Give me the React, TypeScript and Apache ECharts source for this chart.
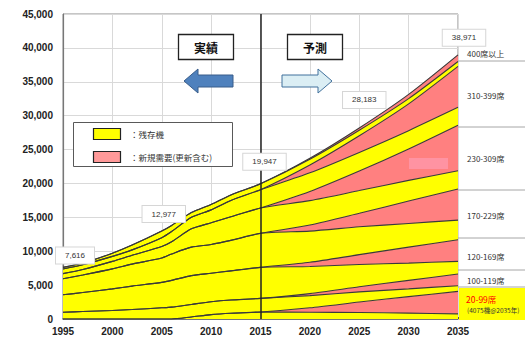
import React, { useEffect, useRef } from "react";
import * as echarts from "echarts";

// ---- data ----
const years = [1995, 1997, 2000, 2002, 2005, 2006, 2008, 2010, 2012, 2015, 2020, 2025, 2030, 2035];
const categories = ["20-99席", "100-119席", "120-169席", "170-229席", "230-309席", "310-399席", "400席以上"];

// 残存機 (existing fleet) per seat class
const existing20_99 = [0, 0, 0, 0, 0, 0, 300, 650, 850, 1030, 1000, 950, 870, 750];
const existing100_119 = [1000, 1100, 1250, 1400, 1650, 1750, 1850, 1900, 1950, 2010, 1800, 1500, 1150, 830];
const existing120_169 = [2580, 2800, 3200, 3450, 3750, 3950, 4250, 4200, 4300, 4580, 4000, 3300, 2550, 1870];
const existing170_229 = [2370, 2600, 2950, 3250, 3600, 3900, 4200, 4250, 4500, 5020, 4600, 4100, 3500, 2900];
const existing230_309 = [740, 800, 1100, 1300, 1700, 1800, 2700, 3200, 3500, 3740, 3600, 3350, 3050, 2700];
const existing310_399 = [690, 700, 740, 800, 1300, 1500, 1700, 1900, 2400, 2700, 2750, 2750, 2700, 2630];
const existing400 = [236, 250, 460, 700, 977, 900, 700, 800, 800, 867, 850, 820, 780, 730];

// 新規需要 (new demand incl. replacement) per seat class
const new20_99 = [0, 0, 0, 0, 0, 0, 0, 0, 0, 0, 650, 1550, 2430, 3325];
const new100_119 = [0, 0, 0, 0, 0, 0, 0, 0, 0, 0, 300, 750, 1250, 1730];
const new120_169 = [0, 0, 0, 0, 0, 0, 0, 0, 0, 0, 620, 1450, 2350, 3190];
const new170_229 = [0, 0, 0, 0, 0, 0, 0, 0, 0, 0, 900, 2000, 3300, 4580];
const new230_309 = [0, 0, 0, 0, 0, 0, 0, 0, 0, 0, 1350, 2883, 4641, 6720];
const new310_399 = [0, 0, 0, 0, 0, 0, 0, 0, 0, 0, 1150, 2450, 3950, 6045];
const new400 = [0, 0, 0, 0, 0, 0, 0, 0, 0, 0, 140, 330, 620, 971];

const totalYears = [1995, 2005, 2015, 2025, 2035];
const totals = [7616, 12977, 19947, 28183, 38971];

const existingAll = [existing20_99, existing100_119, existing120_169, existing170_229, existing230_309, existing310_399, existing400];
const newAll = [new20_99, new100_119, new120_169, new170_229, new230_309, new310_399, new400];

const labelOffsets: number[][] = [[12, -12], [2, -17], [4, -22], [5, -28], [6, -17]];

const YELLOW = "#FFFF00";
const PINK = "#FF8080";
const LINE = "#3a3a3a";
const NUM_FONT = "Liberation Sans, Arial, sans-serif";
const JP_FONT = "Noto Sans CJK JP, sans-serif";

const t = (y: number) => Date.UTC(y, 0, 1);

export default function App() {
  const ref = useRef<HTMLDivElement>(null);
  useEffect(() => {
    if (!ref.current) return;
    const chart = echarts.init(ref.current, null, { renderer: "svg" });

    const areaSeries: any[] = [];
    const lineSeries: any[] = [];
    categories.forEach((cat, i) => {
      const pairs: [string, number[], string][] = [
        [cat + " 残存機", existingAll[i], YELLOW],
        [cat + " 新規需要", newAll[i], PINK],
      ];
      pairs.forEach(([name, arr, color]) => {
        const data = years.map((y, j) => [t(y), arr[j]]);
        areaSeries.push({
          name,
          type: "line",
          stack: "area",
          xAxisIndex: 0,
          data,
          smooth: 0.25,
          showSymbol: false,
          symbol: "none",
          lineStyle: { width: 0 },
          areaStyle: { color, opacity: 1 },
          z: 2,
          silent: true,
        });
        lineSeries.push({
          name: name + " line",
          type: "line",
          stack: "lines",
          xAxisIndex: 0,
          data,
          smooth: 0.25,
          showSymbol: false,
          symbol: "none",
          lineStyle: { width: 1.1, color: LINE },
          z: 3,
          silent: true,
        });
      });
    });

    lineSeries[0].markLine = {
      silent: true,
      symbol: "none",
      label: { show: false },
      lineStyle: { color: "#222", width: 1.5, type: "solid" },
      data: [{ xAxis: t(2015) }],
    };

    const totalSeries = {
      name: "合計",
      type: "line",
      xAxisIndex: 0,
      data: totalYears.map((y, i) => ({
        value: [t(y), totals[i]],
        label: { offset: labelOffsets[i] },
      })),
      symbol: "circle",
      symbolSize: 2,
      showSymbol: true,
      itemStyle: { color: "rgba(0,0,0,0)", borderWidth: 0 },
      lineStyle: { width: 0, color: "rgba(0,0,0,0)" },
      z: 10,
      label: {
        show: true,
        position: "inside",
        formatter: (p: any) => p.value[1].toLocaleString("en-US"),
        fontSize: 8,
        fontFamily: NUM_FONT,
        color: "#333",
        backgroundColor: "#fff",
        borderColor: "#d6d6d6",
        borderWidth: 1,
        padding: [4, 9],
      },
    };

    const rightLabels = [
      { t: "400席以上", y: 53 },
      { t: "310-399席", y: 95 },
      { t: "230-309席", y: 158 },
      { t: "170-229席", y: 215 },
      { t: "120-169席", y: 256 },
      { t: "100-119席", y: 280 },
    ];
    const dividerYs = [61, 127, 190, 238, 270, 287];

    const graphic: any[] = [
      { type: "rect", shape: { x: 409, y: 158, width: 39, height: 11 }, style: { fill: "#FF93A2" }, z: 5 },
      { type: "rect", shape: { x: 459, y: 288, width: 66, height: 32 }, style: { fill: YELLOW }, z: 5 },
      ...dividerYs.map((y) => ({
        type: "line",
        shape: { x1: 458, y1: y, x2: 525, y2: y },
        style: { stroke: "#a6a6a6", lineWidth: 1 },
        z: 5,
      })),
      ...rightLabels.map((l) => ({
        type: "text",
        x: 467,
        y: l.y,
        style: { text: l.t, fontSize: 8, fontFamily: JP_FONT, fill: "#333", verticalAlign: "middle" },
        z: 6,
      })),
      {
        type: "text",
        x: 466,
        y: 299,
        style: { text: "20-99席", fontSize: 8.5, fontFamily: JP_FONT, fill: "#FF0000", verticalAlign: "middle" },
        z: 6,
      },
      {
        type: "text",
        x: 467,
        y: 310,
        style: { text: "(4075機@2035年)", fontSize: 6.5, fontFamily: JP_FONT, fill: "#333", verticalAlign: "middle" },
        z: 6,
      },
      { type: "rect", shape: { x: 73.5, y: 122.5, width: 159, height: 44 }, style: { fill: "#fff", stroke: "#595959", lineWidth: 1 }, z: 6 },
      { type: "rect", shape: { x: 93.5, y: 128.5, width: 27, height: 11 }, style: { fill: YELLOW, stroke: "#222", lineWidth: 1.2 }, z: 7 },
      { type: "rect", shape: { x: 93.5, y: 151.5, width: 27, height: 11 }, style: { fill: "#FF9999", stroke: "#222", lineWidth: 1.2 }, z: 7 },
      {
        type: "text",
        x: 130,
        y: 134,
        style: { text: "：残存機", fontSize: 8.5, fontFamily: JP_FONT, fill: "#333", verticalAlign: "middle" },
        z: 7,
      },
      {
        type: "text",
        x: 130,
        y: 157,
        style: { text: "：新規需要(更新含む)", fontSize: 8.5, fontFamily: JP_FONT, fill: "#333", verticalAlign: "middle" },
        z: 7,
      },
      { type: "rect", shape: { x: 178.5, y: 34.5, width: 55, height: 25 }, style: { fill: "#fff", stroke: "#222", lineWidth: 1.3 }, z: 6 },
      {
        type: "text",
        x: 206,
        y: 47,
        style: { text: "実績", fontSize: 12, fontWeight: "bold", fontFamily: JP_FONT, fill: "#111", align: "center", verticalAlign: "middle" },
        z: 7,
      },
      { type: "rect", shape: { x: 287.5, y: 34.5, width: 55, height: 25 }, style: { fill: "#fff", stroke: "#222", lineWidth: 1.3 }, z: 6 },
      {
        type: "text",
        x: 315,
        y: 47,
        style: { text: "予測", fontSize: 12, fontWeight: "bold", fontFamily: JP_FONT, fill: "#111", align: "center", verticalAlign: "middle" },
        z: 7,
      },
      {
        type: "polygon",
        shape: { points: [[184, 81], [198, 69], [198, 75], [233, 75], [233, 87], [198, 87], [198, 93]] },
        style: { fill: "#4F81BD", stroke: "#385D8A", lineWidth: 1 },
        z: 6,
      },
      {
        type: "polygon",
        shape: { points: [[332, 81], [318, 69], [318, 75], [282, 75], [282, 87], [318, 87], [318, 93]] },
        style: { fill: "#DBEEF4", stroke: "#41719C", lineWidth: 1 },
        z: 6,
      },
    ];

    chart.setOption({
      animation: false,
      backgroundColor: "#fff",
      grid: {
        left: 63,
        right: 67,
        top: 14,
        bottom: 29,
        show: true,
        borderColor: "#8c8c8c",
        borderWidth: 1,
        backgroundColor: "transparent",
      },
      xAxis: [
        {
          type: "time",
          min: t(1995),
          max: t(2035),
          axisLine: { show: false },
          axisTick: { show: false },
          axisLabel: { show: false },
          splitLine: { show: false },
        },
        {
          type: "value",
          position: "bottom",
          min: 1995,
          max: 2035,
          interval: 5,
          axisLine: { show: true, onZero: false, lineStyle: { color: "#555", width: 1.5 } },
          axisTick: { show: true, inside: true, length: 2, lineStyle: { color: "#555" } },
          axisLabel: {
            fontSize: 10,
            fontWeight: "bold",
            fontFamily: NUM_FONT,
            color: "#222",
            margin: 7,
            formatter: (v: number) => String(v),
          },
          splitLine: { show: true, lineStyle: { color: "#d9d9d9", width: 1 } },
        },
      ],
      yAxis: {
        type: "value",
        min: 0,
        max: 45000,
        interval: 5000,
        axisLine: { show: true, lineStyle: { color: "#777", width: 1.2 } },
        axisTick: { show: false },
        axisLabel: {
          fontSize: 10,
          fontWeight: "bold",
          fontFamily: NUM_FONT,
          color: "#222",
          margin: 10,
          formatter: (v: number) => v.toLocaleString("en-US"),
        },
        splitLine: { show: true, lineStyle: { color: "#d9d9d9", width: 1 } },
      },
      series: [...areaSeries, ...lineSeries, totalSeries],
      graphic,
    });

    return () => chart.dispose();
  }, []);

  return <div ref={ref} style={{ position: "fixed", left: 0, top: 0, width: 525, height: 348 }} />;
}
